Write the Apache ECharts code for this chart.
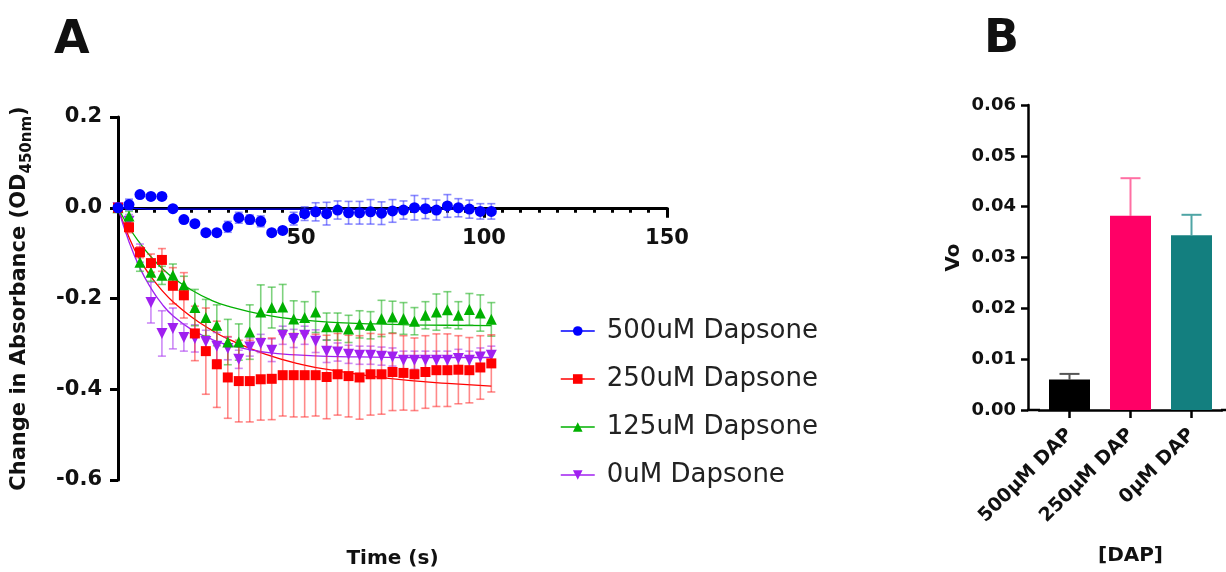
<!DOCTYPE html>
<html>
<head>
<meta charset="utf-8">
<script src="https://cdn.jsdelivr.net/npm/echarts@6/dist/echarts.min.js"></script>
<style>
  html, body { margin: 0; padding: 0; background: #ffffff; }
  #chart { width: 1226px; height: 572px; }
</style>
</head>
<body>
<div id="chart"></div>
<script>
// ---- Panel A: absorbance change over time ----
const timeS = [0, 3, 6, 9, 12, 15, 18, 21, 24, 27, 30, 33, 36, 39, 42, 45, 48, 51, 54, 57,
               60, 63, 66, 69, 72, 75, 78, 81, 84, 87, 90, 93, 96, 99, 102];

const dap500 = [0, 0.007, 0.029, 0.025, 0.025, -0.002, -0.026, -0.035, -0.055, -0.055,
                -0.042, -0.022, -0.026, -0.030, -0.055, -0.050, -0.024, -0.013, -0.009, -0.013,
                -0.005, -0.011, -0.011, -0.009, -0.012, -0.007, -0.005, 0, -0.002, -0.005,
                0.004, 0, -0.003, -0.008, -0.008];
const dap500Err = [0, 0.012, 0.004, 0.004, 0.004, 0.004, 0.004, 0.004, 0.004, 0.004,
                   0.012, 0.012, 0.010, 0.012, 0.004, 0.004, 0.014, 0.015, 0.020, 0.025,
                   0.020, 0.025, 0.025, 0.027, 0.025, 0.025, 0.020, 0.027, 0.022, 0.022,
                   0.025, 0.020, 0.020, 0.017, 0.017];

const dap250 = [0, -0.043, -0.098, -0.122, -0.115, -0.172, -0.193, -0.277, -0.316, -0.345,
                -0.374, -0.382, -0.382, -0.378, -0.377, -0.369, -0.369, -0.369, -0.369, -0.373,
                -0.367, -0.371, -0.374, -0.367, -0.367, -0.362, -0.364, -0.367, -0.362, -0.358,
                -0.358, -0.357, -0.358, -0.352, -0.343];
const dap250Err = [0, 0.012, 0.012, 0.020, 0.025, 0.040, 0.050, 0.060, 0.095, 0.095,
                   0.090, 0.090, 0.090, 0.090, 0.090, 0.090, 0.092, 0.092, 0.090, 0.092,
                   0.090, 0.090, 0.092, 0.090, 0.088, 0.085, 0.082, 0.080, 0.080, 0.080,
                   0.080, 0.075, 0.072, 0.070, 0.063];

const dap125 = [0, -0.018, -0.120, -0.142, -0.149, -0.149, -0.171, -0.220, -0.242, -0.259,
                -0.296, -0.296, -0.274, -0.230, -0.220, -0.219, -0.245, -0.242, -0.230, -0.262,
                -0.262, -0.267, -0.257, -0.259, -0.244, -0.241, -0.244, -0.250, -0.237, -0.230,
                -0.225, -0.237, -0.224, -0.232, -0.246];
const dap125Err = [0, 0.010, 0.020, 0.020, 0.020, 0.025, 0.020, 0.040, 0.040, 0.045,
                   0.050, 0.040, 0.060, 0.060, 0.045, 0.050, 0.040, 0.035, 0.045, 0.030,
                   0.030, 0.030, 0.030, 0.030, 0.040, 0.035, 0.035, 0.030, 0.030, 0.040,
                   0.040, 0.030, 0.035, 0.040, 0.037];

const dap0 = [0, -0.030, -0.100, -0.209, -0.277, -0.266, -0.286, -0.288, -0.295, -0.305,
              -0.310, -0.334, -0.307, -0.299, -0.314, -0.281, -0.288, -0.281, -0.294, -0.316,
              -0.318, -0.323, -0.325, -0.325, -0.327, -0.329, -0.336, -0.336, -0.336, -0.336,
              -0.336, -0.332, -0.336, -0.329, -0.325];
const dap0Err = [0, 0.015, 0.020, 0.045, 0.050, 0.045, 0.030, 0.030, 0.025, 0.030,
                 0.025, 0.020, 0.020, 0.020, 0.025, 0.020, 0.020, 0.020, 0.025, 0.025,
                 0.020, 0.020, 0.020, 0.020, 0.020, 0.020, 0.020, 0.020, 0.020, 0.020,
                 0.020, 0.020, 0.020, 0.020, 0.020];

// fitted one-phase decay curves, sampled
const fitTime  = [0, 3, 6, 9, 12, 15, 20, 25, 30, 40, 50, 60, 70, 80, 90, 102];
const fit500   = [0, -0.001, -0.002, -0.003, -0.003, -0.003, -0.003, -0.003, -0.003, -0.003, -0.003, -0.003, -0.003, -0.003, -0.003, -0.003];
const fit250   = [0, -0.065, -0.115, -0.152, -0.182, -0.207, -0.240, -0.267, -0.289, -0.322, -0.345, -0.360, -0.372, -0.381, -0.387, -0.393];
const fit125   = [0, -0.043, -0.078, -0.108, -0.133, -0.154, -0.181, -0.202, -0.217, -0.236, -0.247, -0.253, -0.256, -0.258, -0.259, -0.260];
const fit0     = [0, -0.075, -0.133, -0.177, -0.212, -0.238, -0.268, -0.288, -0.302, -0.318, -0.325, -0.328, -0.329, -0.330, -0.330, -0.330];

const seriesNames = ['500uM Dapsone', '250uM Dapsone', '125uM Dapsone', '0uM Dapsone'];

// ---- Panel B: initial velocity ----
const dapCats = ['500\u03bcM DAP', '250\u03bcM DAP', '0\u03bcM DAP'];
const voValues = [0.0060, 0.0382, 0.0344];
const voErr    = [0.0011, 0.0074, 0.0040];

const FONT = '"DejaVu Sans", Verdana, sans-serif';
const INK = '#111111';

// layout of panel A (pixels); the time axis sits on the zero line
const A_TOP = 117, A_HEIGHT = 363, Y_MIN = -0.6, Y_MAX = 0.2;
const zeroShift = -A_HEIGHT * (0 - Y_MIN) / (Y_MAX - Y_MIN);

const sets = [
  { name: seriesNames[0], y: dap500, e: dap500Err, fit: fit500, color: '#0000ff', bar: 'rgba(60,60,255,0.6)',  symbol: 'circle',   rot: 0 },
  { name: seriesNames[1], y: dap250, e: dap250Err, fit: fit250, color: '#ff0000', bar: 'rgba(255,40,40,0.55)', symbol: 'rect',     rot: 0 },
  { name: seriesNames[2], y: dap125, e: dap125Err, fit: fit125, color: '#00b000', bar: 'rgba(40,180,40,0.6)',  symbol: 'triangle', rot: 0 },
  { name: seriesNames[3], y: dap0,   e: dap0Err,   fit: fit0,   color: '#a020f0', bar: 'rgba(170,60,240,0.6)', symbol: 'triangle', rot: 180 }
];

function pairs(xs, ys) { return xs.map((x, i) => [x, ys[i]]); }

function errorBars(xs, ys, es, color, axisIdx, capHalf, lineW) {
  return {
    type: 'custom',
    xAxisIndex: axisIdx, yAxisIndex: axisIdx,
    silent: true,
    data: xs.map((x, i) => [x, ys[i], es[i]]),
    encode: { x: 0, y: 1 },
    renderItem: function (params, api) {
      const x = api.value(0), y = api.value(1), e = api.value(2);
      if (!e) return null;
      const top = api.coord([x, y + e]);
      const bot = api.coord([x, y - e]);
      const st = { stroke: color, lineWidth: lineW, fill: null };
      return {
        type: 'group',
        children: [
          { type: 'line', shape: { x1: top[0], y1: top[1], x2: bot[0], y2: bot[1] }, style: st },
          { type: 'line', shape: { x1: top[0] - capHalf, y1: top[1], x2: top[0] + capHalf, y2: top[1] }, style: st },
          { type: 'line', shape: { x1: bot[0] - capHalf, y1: bot[1], x2: bot[0] + capHalf, y2: bot[1] }, style: st }
        ]
      };
    },
    z: 2
  };
}

const series = [];
// fitted curves
sets.forEach(s => {
  series.push({
    type: 'line', name: s.name + ' fit', xAxisIndex: 0, yAxisIndex: 0,
    data: pairs(fitTime, s.fit), smooth: true, showSymbol: false, silent: true,
    lineStyle: { color: s.color, width: 1.3 }, z: 1
  });
});
// error bars, drawn under markers; last set lowest
sets.slice().reverse().forEach(s => {
  series.push(errorBars(timeS, s.y, s.e, s.bar, 0, 4, 1.6));
});
// data markers
sets.slice().reverse().forEach(s => {
  series.push({
    type: 'line', name: s.name, xAxisIndex: 0, yAxisIndex: 0,
    data: pairs(timeS, s.y),
    symbol: s.symbol, symbolRotate: s.rot, symbolSize: s.symbol === 'rect' ? 10 : 11,
    showAllSymbol: true,
    itemStyle: { color: s.color },
    lineStyle: { opacity: 0, color: s.color },
    z: 3
  });
});

// bars of panel B
const barColors = ['#000000', '#ff0066', '#137f7f'];
const errColors = ['#555555', '#ff6fa3', '#4fa5a5'];
series.push({
  type: 'bar', xAxisIndex: 1, yAxisIndex: 1, barWidth: 41,
  data: voValues.map((v, i) => ({ value: v, itemStyle: { color: barColors[i] } })),
  silent: true, z: 2
});
series.push({
  type: 'custom', xAxisIndex: 1, yAxisIndex: 1, silent: true,
  data: voValues.map((v, i) => [i, v, voErr[i]]),
  encode: { x: 0, y: 1 },
  renderItem: function (params, api) {
    const i = api.value(0), v = api.value(1), e = api.value(2);
    const a = api.coord([i, v]);
    const b = api.coord([i, v + e]);
    const st = { stroke: errColors[i], lineWidth: 2, fill: null };
    return {
      type: 'group',
      children: [
        { type: 'line', shape: { x1: a[0], y1: a[1], x2: b[0], y2: b[1] }, style: st },
        { type: 'line', shape: { x1: b[0] - 10, y1: b[1], x2: b[0] + 10, y2: b[1] }, style: st }
      ]
    };
  },
  z: 1
});

const boldTick = { fontFamily: FONT, fontWeight: 'bold', color: INK };

const option = {
  backgroundColor: '#ffffff',
  animation: false,
  textStyle: { fontFamily: FONT },
  grid: [
    { left: 118, top: A_TOP, width: 549, height: A_HEIGHT, containLabel: false, outerBoundsMode: 'none' },
    { left: 1039, top: 105, width: 183, height: 305, containLabel: false, outerBoundsMode: 'none' }
  ],
  xAxis: [
    {
      gridIndex: 0, type: 'value', min: 0, max: 150, interval: 50,
      position: 'bottom', offset: zeroShift,
      axisLine: { onZero: false, lineStyle: { color: '#000', width: 3 } },
      axisTick: { show: true, inside: false, length: 10, lineStyle: { color: '#000', width: 3 } },
      minorTick: { show: true, splitNumber: 10, length: 5, lineStyle: { color: '#000', width: 3 } },
      splitLine: { show: false }, minorSplitLine: { show: false },
      axisLabel: Object.assign({ fontSize: 21, margin: 20, showMinLabel: false }, boldTick),
      name: 'Time (s)', nameLocation: 'middle', nameGap: 341,
      nameTextStyle: { fontFamily: FONT, fontWeight: 'bold', fontSize: 20, color: INK }
    },
    {
      gridIndex: 1, type: 'category', data: dapCats,
      axisLine: { lineStyle: { color: '#000', width: 2.5 } },
      axisTick: { show: true, alignWithLabel: true, length: 8, lineStyle: { color: '#000', width: 2.5 } },
      axisLabel: Object.assign({ fontSize: 19, rotate: 45, margin: 22, interval: 0 }, boldTick),
      name: '[DAP]', nameLocation: 'middle', nameGap: 136,
      nameTextStyle: { fontFamily: FONT, fontWeight: 'bold', fontSize: 20, color: INK }
    }
  ],
  yAxis: [
    {
      gridIndex: 0, type: 'value', min: Y_MIN, max: Y_MAX, interval: 0.2,
      axisLine: { show: true, onZero: false, lineStyle: { color: '#000', width: 3 } },
      axisTick: { show: true, length: 8, lineStyle: { color: '#000', width: 3 } },
      splitLine: { show: false },
      axisLabel: Object.assign({
        fontSize: 21, margin: 16,
        formatter: v => (Math.abs(v) < 1e-9 ? '0.0' : v.toFixed(1))
      }, boldTick),
      name: 'Change in Absorbance (OD{sub|450nm})', nameLocation: 'middle', nameGap: 83,
      nameTextStyle: {
        fontFamily: FONT, fontWeight: 'bold', fontSize: 21, color: INK,
        rich: { sub: { fontFamily: FONT, fontWeight: 'bold', fontSize: 15, color: INK, lineHeight: 31, verticalAlign: 'bottom' } }
      }
    },
    {
      gridIndex: 1, type: 'value', min: 0, max: 0.06, interval: 0.01, offset: 11,
      axisLine: { show: true, lineStyle: { color: '#000', width: 2.5 } },
      axisTick: { show: true, length: 7, lineStyle: { color: '#000', width: 2.5 } },
      splitLine: { show: false },
      axisLabel: Object.assign({ fontSize: 18, margin: 12, formatter: v => v.toFixed(2) }, boldTick),
      name: 'Vo', nameLocation: 'middle', nameGap: 64,
      nameTextStyle: { fontFamily: FONT, fontWeight: 'bold', fontSize: 20, color: INK }
    }
  ],
  legend: {
    data: seriesNames,
    orient: 'vertical', left: 555, top: 313,
    itemWidth: 34, itemHeight: 12, itemGap: 22,
    selectedMode: false,
    lineStyle: { opacity: 1, width: 1.5 },
    formatter: '{t|{name}}',
    textStyle: {
      fontFamily: FONT, fontSize: 26, color: '#222',
      rich: { t: { fontFamily: FONT, fontSize: 26, color: '#222', padding: [0, 0, 0, 7] } }
    }
  },
  graphic: [
    { type: 'text', left: 54, top: 18, style: { text: 'A', font: 'bold 46px ' + FONT, fill: INK } },
    { type: 'text', left: 984, top: 17, style: { text: 'B', font: 'bold 46px ' + FONT, fill: INK } },
    { type: 'line', shape: { x1: 1027, y1: 410, x2: 1040, y2: 410 }, style: { stroke: '#000', lineWidth: 2.5 } },
    { type: 'line', shape: { x1: 1221, y1: 410, x2: 1226, y2: 410 }, style: { stroke: '#000', lineWidth: 2.5 } }
  ],
  series: series
};

const chart = echarts.init(document.getElementById('chart'), null, { renderer: 'canvas' });
chart.setOption(option);
</script>
</body>
</html>
